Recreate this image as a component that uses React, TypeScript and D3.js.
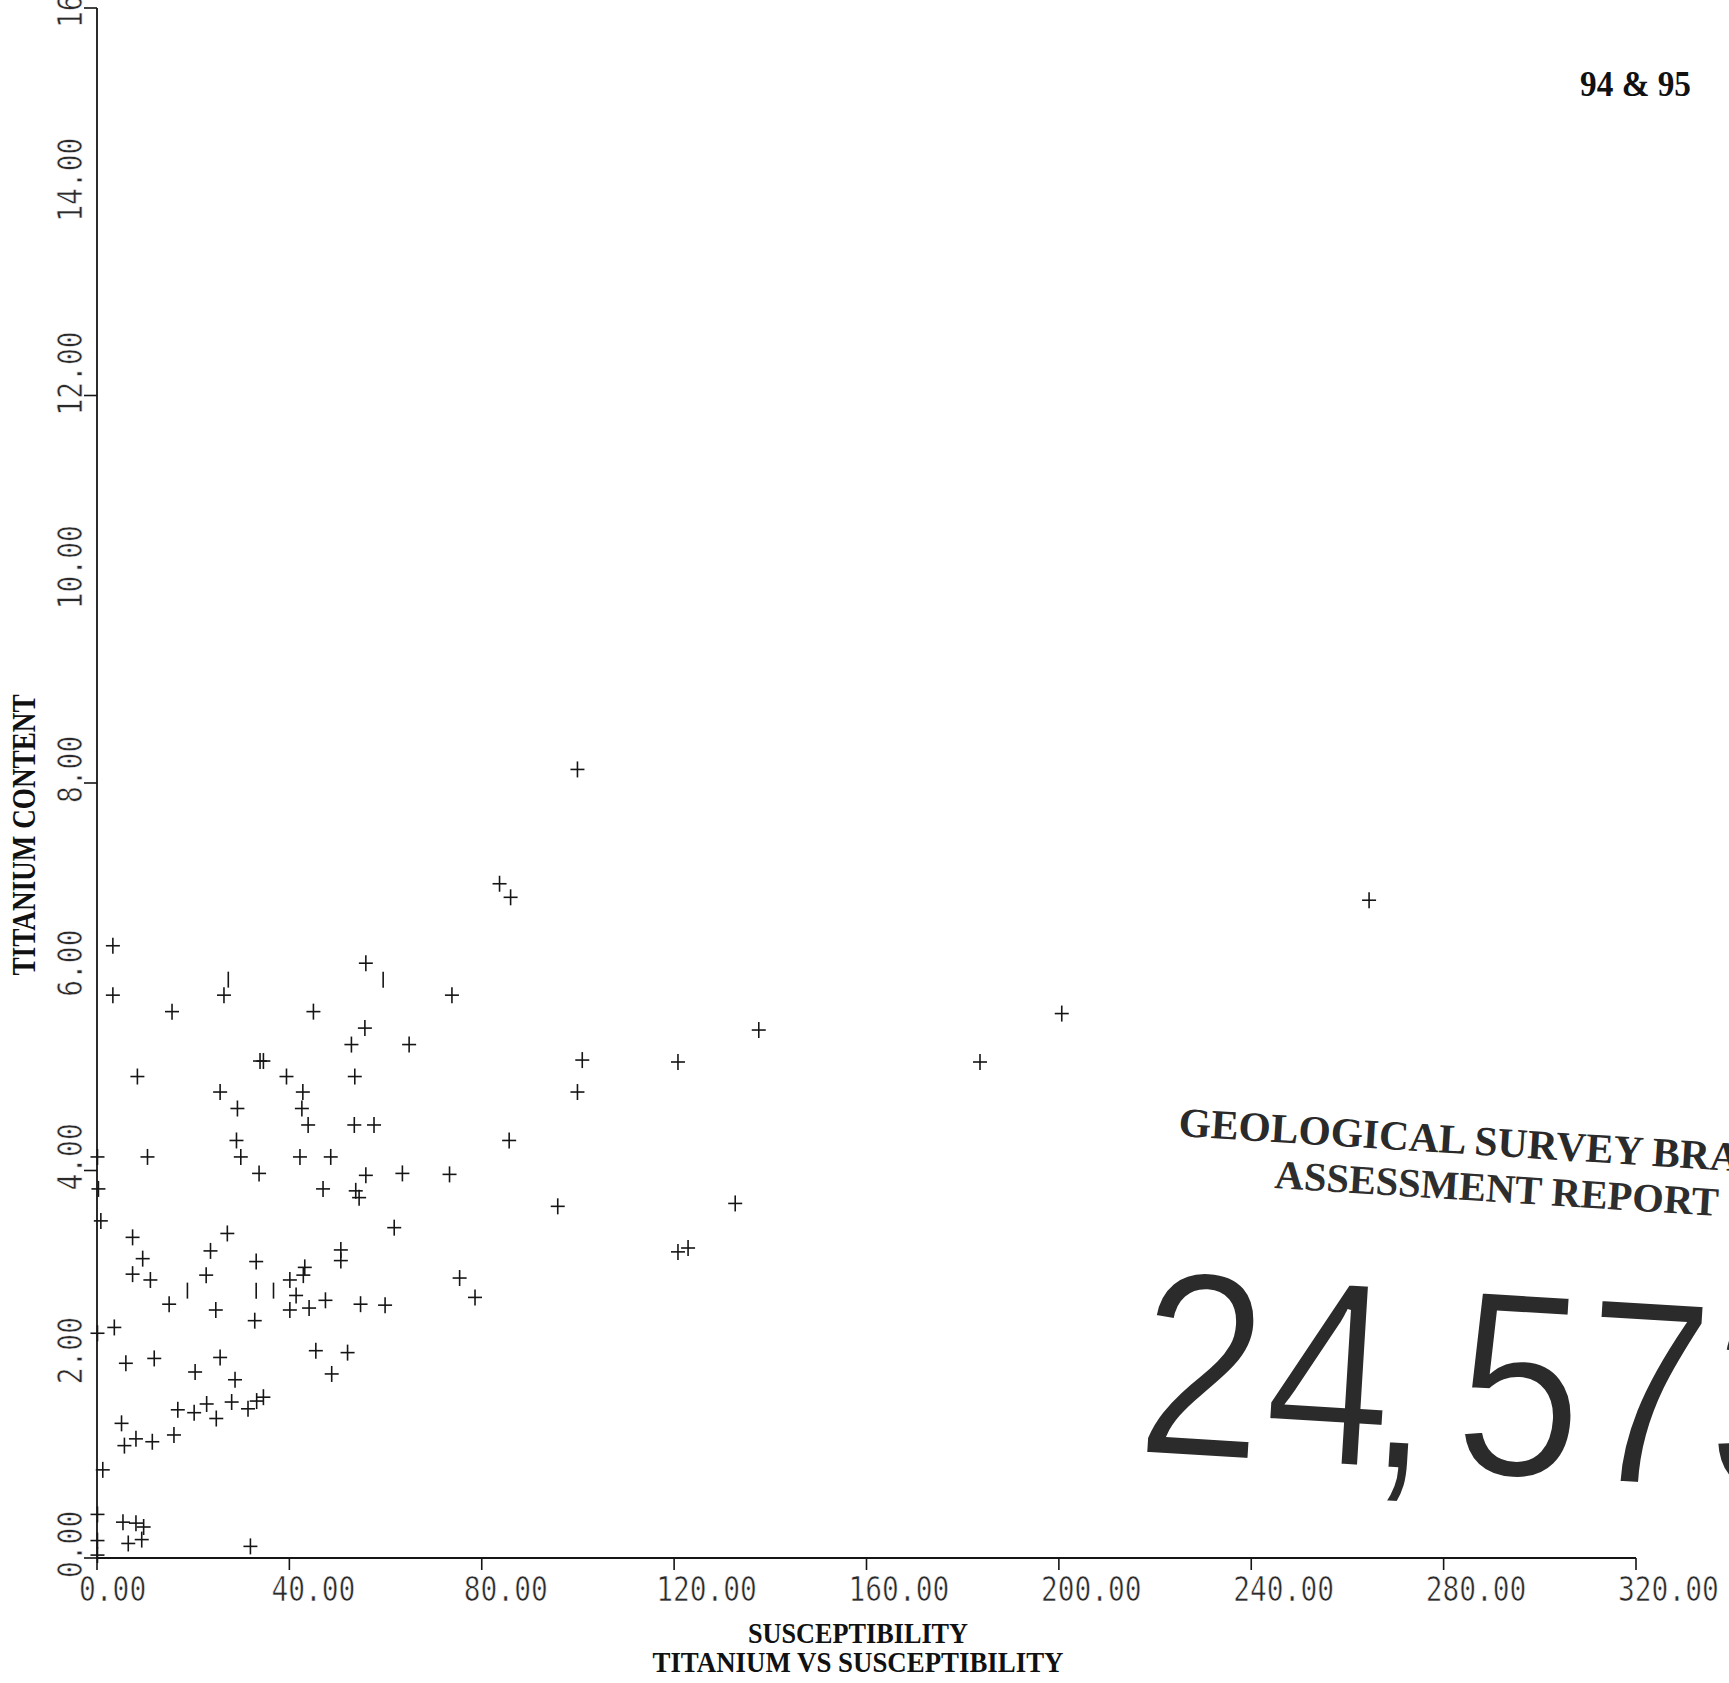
import React from "react";
import * as d3 from "d3";

// ---- data ----
// susceptibility (x) and titanium content (y) for the "+" markers
const susceptibility: number[] = [
  3.3, 3.3, 15.6, 26.4, 55.9, 45.0, 55.7, 52.9, 64.9, 33.9, 34.6, 8.4, 39.4, 53.6,
  25.6, 42.8, 29.2, 42.6, 43.9, 53.5, 57.6, 29.0, 0.1, 10.5, 29.9, 42.2, 48.6, 33.7,
  55.9, 63.5, 73.3, 0.3, 47.0, 53.8, 54.5, 0.8, 61.8, 7.4, 27.1, 23.6, 50.7, 9.5,
  50.7, 33.1, 43.2, 42.9, 7.4, 22.7, 11.1, 40.1, 41.4, 15.0, 24.7, 40.1, 44.1, 47.5,
  54.8, 59.9, 32.8, 3.6, 0.1, 6.0, 11.9, 20.4, 25.6, 28.7, 45.5, 52.1, 48.8,
  5.1, 5.7, 8.1, 11.5, 16.0, 16.8, 20.2, 22.8, 24.8, 28.0, 31.4, 33.2, 34.6,
  1.2, 0.1, 0.1, 0.1, 5.4, 8.1, 9.7, 6.5, 9.3, 31.9,
  99.9, 83.7, 86.0, 264.5, 200.6, 73.8, 137.6, 100.9, 120.8, 183.6, 99.9, 85.7,
  95.8, 132.7, 120.8, 122.9, 75.4, 78.6,
];
const titanium: number[] = [
  6.32, 5.81, 5.64, 5.81, 6.14, 5.64, 5.47, 5.30, 5.30, 5.13, 5.13, 4.97, 4.97, 4.97,
  4.81, 4.81, 4.64, 4.64, 4.47, 4.47, 4.47, 4.31, 4.14, 4.14, 4.14, 4.14, 4.14, 3.97,
  3.95, 3.97, 3.96, 3.81, 3.81, 3.79, 3.72, 3.48, 3.41, 3.31, 3.35, 3.17, 3.18, 3.09,
  3.07, 3.06, 3.00, 2.92, 2.93, 2.92, 2.87, 2.87, 2.71, 2.62, 2.56, 2.56, 2.58, 2.66,
  2.62, 2.61, 2.45, 2.38, 2.32, 2.01, 2.06, 1.92, 2.07, 1.84, 2.14, 2.12, 1.90,
  1.39, 1.16, 1.23, 1.20, 1.27, 1.53, 1.50, 1.59, 1.44, 1.61, 1.54, 1.62, 1.66,
  0.91, 0.45, 0.18, 0.03, 0.37, 0.36, 0.32, 0.15, 0.19, 0.12,
  8.14, 6.96, 6.82, 6.79, 5.62, 5.81, 5.45, 5.14, 5.12, 5.12, 4.81, 4.31,
  3.63, 3.66, 3.16, 3.20, 2.89, 2.69,
];
// partially printed markers (only the vertical stroke shows)
const partialX: number[] = [27.3, 59.5, 18.8, 33.1, 36.7];
const partialY: number[] = [5.97, 5.97, 2.76, 2.76, 2.76];

const xTicks: number[] = [0, 40, 80, 120, 160, 200, 240, 280, 320];
const yLabels: number[] = [0, 2, 4, 6, 8, 10, 12, 14, 16];
const yTicks: number[] = [0, 4, 8, 12, 16];

const xTitle = "SUSCEPTIBILITY";
const chartTitle = "TITANIUM VS SUSCEPTIBILITY";
const yTitle = "TITANIUM CONTENT";
const pageNote = "94 & 95";
const stampLine1 = "GEOLOGICAL SURVEY BRANCH";
const stampLine2 = "ASSESSMENT REPORT";
const stampChars: string[] = ["2", "4", ",", "5", "7", "3"];
const stampAdvance: number[] = [0, 127, 232, 318, 445, 572];

const W = 1729;
const H = 1683;

export default function App() {
  const x = d3.scaleLinear().domain([0, 320]).range([97, 1636]);
  const y = d3.scaleLinear().domain([0, 16]).range([1558, 8]);
  const ink = "#151515";
  const mono = "'DejaVu Sans Mono', 'Liberation Mono', monospace";
  const serif = "'Liberation Serif', 'DejaVu Serif', serif";
  const fmt = (v: number) => v.toFixed(2);
  const pts = susceptibility.map((v, i) => [v, titanium[i]]);
  const parts = partialX.map((v, i) => [v, partialY[i]]);

  return (
    <div style={{ position: "absolute", left: 0, top: 0, width: W, height: H, background: "#fff" }}>
      <svg width={W} height={H} viewBox={`0 0 ${W} ${H}`} style={{ display: "block" }}>
        <rect x={0} y={0} width={W} height={H} fill="#fff" />
        {/* axes */}
        <line x1={x(0)} x2={x(0)} y1={y(16)} y2={y(0)} stroke={ink} strokeWidth={1.8} />
        <line x1={x(0)} x2={x(320)} y1={y(0)} y2={y(0)} stroke={ink} strokeWidth={1.8} />
        {xTicks.map((t) => (
          <g key={"xt" + t}>
            <line x1={x(t)} x2={x(t)} y1={y(0)} y2={y(0) + 12} stroke={ink} strokeWidth={1.6} />
            <text
              x={x(t) - 18}
              y={1601}
              fontFamily={mono}
              fontSize={33}
              fill="#2a2a2a"
              stroke="#fff"
              strokeWidth={0.6}
              textLength={16.8 * fmt(t).length}
              lengthAdjust="spacingAndGlyphs"
            >
              {fmt(t)}
            </text>
          </g>
        ))}
        {yTicks.map((t) => (
          <line key={"yt" + t} x1={x(0) - 13} x2={x(0)} y1={y(t)} y2={y(t)} stroke={ink} strokeWidth={1.6} />
        ))}
        {yLabels.map((t) => (
          <text
            key={"yl" + t}
            x={82}
            y={y(t) + 20}
            transform={`rotate(-90, 82, ${y(t) + 20})`}
            fontFamily={mono}
            fontSize={33}
            fill="#2a2a2a"
            stroke="#fff"
            strokeWidth={0.6}
            textLength={16.8 * fmt(t).length}
            lengthAdjust="spacingAndGlyphs"
          >
            {fmt(t)}
          </text>
        ))}
        {/* markers */}
        {pts.map(([a, b], i) => (
          <g key={"p" + i} stroke={ink} strokeWidth={1.6}>
            <line x1={x(a) - 7} x2={x(a) + 7} y1={y(b)} y2={y(b)} />
            <line x1={x(a)} x2={x(a)} y1={y(b) - 8} y2={y(b) + 8} />
          </g>
        ))}
        {parts.map(([a, b], i) => (
          <line key={"q" + i} x1={x(a)} x2={x(a)} y1={y(b) - 8} y2={y(b) + 8} stroke={ink} strokeWidth={1.6} />
        ))}
        {/* titles */}
        <text
          x={35}
          y={835}
          transform="rotate(-90, 35, 835)"
          textAnchor="middle"
          fontFamily={serif}
          fontWeight="bold"
          fontSize={33}
          fill="#111"
          textLength={281}
          lengthAdjust="spacingAndGlyphs"
        >
          {yTitle}
        </text>
        <text
          x={858}
          y={1643}
          textAnchor="middle"
          fontFamily={serif}
          fontWeight="bold"
          fontSize={29}
          fill="#111"
          textLength={220}
          lengthAdjust="spacingAndGlyphs"
        >
          {xTitle}
        </text>
        <text
          x={858}
          y={1672}
          textAnchor="middle"
          fontFamily={serif}
          fontWeight="bold"
          fontSize={29}
          fill="#111"
          textLength={411}
          lengthAdjust="spacingAndGlyphs"
        >
          {chartTitle}
        </text>
        <text
          x={1580}
          y={96}
          fontFamily={serif}
          fontWeight="bold"
          fontSize={35}
          fill="#111"
          textLength={111}
          lengthAdjust="spacingAndGlyphs"
        >
          {pageNote}
        </text>
        {/* stamp */}
        <g transform="translate(1178,1136) rotate(3.6)">
          <text x={0} y={0} fontFamily={serif} fontWeight="bold" fontSize={41.5} fill="#2a2a2a">
            {stampLine1}
          </text>
        </g>
        <g transform="translate(1274,1188) rotate(3.6)">
          <text x={0} y={0} fontFamily={serif} fontWeight="bold" fontSize={40.5} fill="#2e2e2e">
            {stampLine2}
          </text>
        </g>
        <g transform="translate(1134,1453) rotate(3.5)">
          {stampChars.map((c, i) => (
            <text
              key={"s" + i}
              transform={`translate(${stampAdvance[i]},0) scale(0.86,1)`}
              fontFamily="'Liberation Sans', Arial, sans-serif"
              fontSize={265}
              fill="#2b2b2b"
              stroke="#fff"
              strokeWidth={4}
            >
              {c}
            </text>
          ))}
        </g>
      </svg>
    </div>
  );
}
